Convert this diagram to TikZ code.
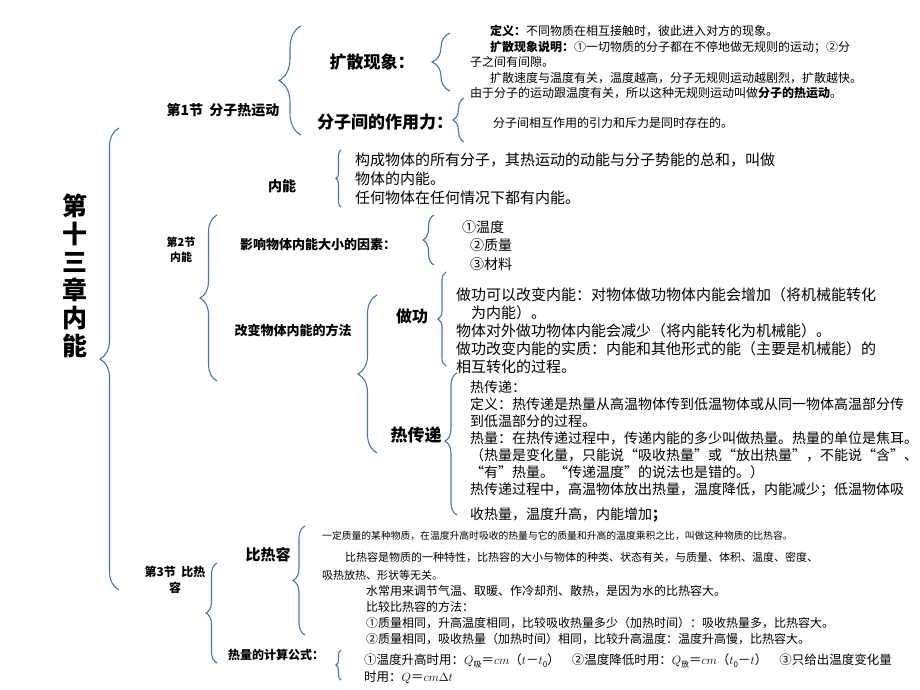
\documentclass[tikz,border=0pt]{standalone}
\usepackage{fontspec}
\setmainfont{Noto Sans CJK SC}
\usetikzlibrary{decorations.pathreplacing}
\definecolor{bc}{RGB}{68,114,196}
\newcommand\fs[2]{\fontsize{#1}{#2}\selectfont}
\newcommand\sub[1]{\raisebox{-0.35ex}{\fontsize{8}{8}\selectfont #1}}
\tikzset{
 lbl/.style={inner sep=0pt,font=\bfseries},
 blk/.style={anchor=north west,inner sep=0pt,align=left},
}
\newcommand\br[5]{\draw[bc,line width=1.1pt,decorate,decoration={brace,amplitude=#4pt,aspect=#5}] (#1,#3) -- (#1,#2);}
\begin{document}
\begin{tikzpicture}[x=1pt,y=-1pt]
\useasboundingbox[fill=white] (0,0) rectangle (920,690);
% braces: x, top, bottom, amplitude, aspect
\br{119}{128}{590}{19}{0.5}
\br{301}{26}{135}{22}{0.5}
\br{450}{33}{91}{18}{0.5}
\br{464}{98}{142}{11}{0.5}
\br{341}{150}{207}{5}{0.5}
\br{217}{215}{381}{17}{0.5}
\br{434}{215}{265}{11}{0.5}
\br{377}{295}{453}{19}{0.5}
\br{446}{272}{366}{8}{0.5}
\br{457}{373}{515}{12}{0.52}
\br{217}{563}{663}{11}{0.5}
\br{305}{526}{635}{12}{0.5}
\br{341}{650}{680}{5}{0.5}
% labels
\node[lbl,align=center,font=\bfseries\fs{25}{28}] (title) at (75,276) {第\\十\\三\\章\\内\\能};
\node[lbl,font=\bfseries\fs{14}{16}] (s1) at (223,110) {第1节\ \ 分子热运动};
\node[lbl,font=\bfseries\fs{17}{20}] (kuosan) at (372,62) {扩散现象：};
\node[lbl,font=\bfseries\fs{17}{20}] (zuoyong) at (385,122) {分子间的作用力：};
\node[lbl,font=\bfseries\fs{14}{16}] (neng) at (282,186) {内能};
\node[lbl,align=center,font=\bfseries\fs{11}{15}] (s2) at (181,250) {第2节\\内能};
\node[lbl,font=\bfseries\fs{13}{15}] (yx) at (318,245) {影响物体内能大小的因素：};
\node[lbl,font=\bfseries\fs{13}{15}] (gb) at (293,330) {改变物体内能的方法};
\node[lbl,font=\bfseries\fs{16}{18}] (zg) at (412,316) {做功};
\node[lbl,font=\bfseries\fs{17}{20}] (rcd) at (416,435) {热传递};
\node[lbl,align=center,font=\bfseries\fs{12}{16}] (s3) at (175,580) {第3节\ \ 比热\\容};
\node[lbl,font=\bfseries\fs{15}{17}] (brr) at (268,555) {比热容};
\node[lbl,font=\bfseries\fs{12}{14}] (rl) at (276,655) {热量的计算公式：};
% text blocks
\node[blk,font=\fs{12}{15.5}] (t1) at (470,25) {\hspace{20pt}\textbf{定义：}不同物质在相互接触时，彼此进入对方的现象。\\
\hspace{20pt}\textbf{扩散现象说明：}①一切物质的分子都在不停地做无规则的运动；②分\\
子之间有间隙。\\
\hspace{20pt}扩散速度与温度有关，温度越高，分子无规则运动越剧烈，扩散越快。\\
由于分子的运动跟温度有关，所以这种无规则运动叫做\textbf{分子的热运动}。};
\node[blk,font=\fs{12}{14}] (t2) at (493,117) {分子间相互作用的引力和斥力是同时存在的。};
\node[blk,font=\fs{15}{19}] (t3) at (355,153) {构成物体的所有分子，其热运动的动能与分子势能的总和，叫做\\物体的内能。\\任何物体在任何情况下都有内能。};
\node[blk,font=\fs{14}{18.5}] (t4) at (462,220) {①温度\\\hspace{8pt}②质量\\\hspace{8pt}③材料};
\node[blk,font=\fs{15}{18}] (t5) at (456,287) {做功可以改变内能：对物体做功物体内能会增加（将机械能转化\\\hspace{15pt}为内能）。\\物体对外做功物体内能会减少（将内能转化为机械能）。\\做功改变内能的实质：内能和其他形式的能（主要是机械能）的\\相互转化的过程。};
\node[blk,font=\fs{14}{17}] (t6) at (470,380) {热传递：\\定义：热传递是热量从高温物体传到低温物体或从同一物体高温部分传\\到低温部分的过程。\\热量：在热传递过程中，传递内能的多少叫做热量。热量的单位是焦耳。\\（热量是变化量，只能说“吸收热量”或“放出热量”，不能说“含”、\\“有”热量。“传递温度”的说法也是错的。）\\热传递过程中，高温物体放出热量，温度降低，内能减少；低温物体吸\\[8pt]收热量，温度升高，内能增加\textbf{；}};
\node[blk,font=\fs{9.8}{12}] (t7) at (322,531) {一定质量的某种物质，在温度升高时吸收的热量与它的质量和升高的温度乘积之比，叫做这种物质的比热容。};
\node[blk,font=\fs{11}{18}] (t8) at (322,552) {\hspace{23pt}比热容是物质的一种特性，比热容的大小与物体的种类、状态有关，与质量、体积、温度、密度、\\吸热放热、形状等无关。};
\node[blk,font=\fs{12}{16}] (t9) at (366,585) {水常用来调节气温、取暖、作冷却剂、散热，是因为水的比热容大。\\比较比热容的方法：\\①质量相同，升高温度相同，比较吸收热量多少（加热时间）：吸收热量多，比热容大。\\②质量相同，吸收热量（加热时间）相同，比较升高温度：温度升高慢，比热容大。};
\node[blk,font=\fs{12.5}{17}] (t10) at (364,654) {①温度升高时用：$Q$\sub{吸}＝$cm$（$t$－$t$\sub{0}）\hspace{12pt}②温度降低时用：$Q$\sub{放}＝$cm$（$t$\sub{0}－$t$）\hspace{12pt}③只给出温度变化量\\时用：$Q$＝$cm\Delta t$};
\end{tikzpicture}
\end{document}
